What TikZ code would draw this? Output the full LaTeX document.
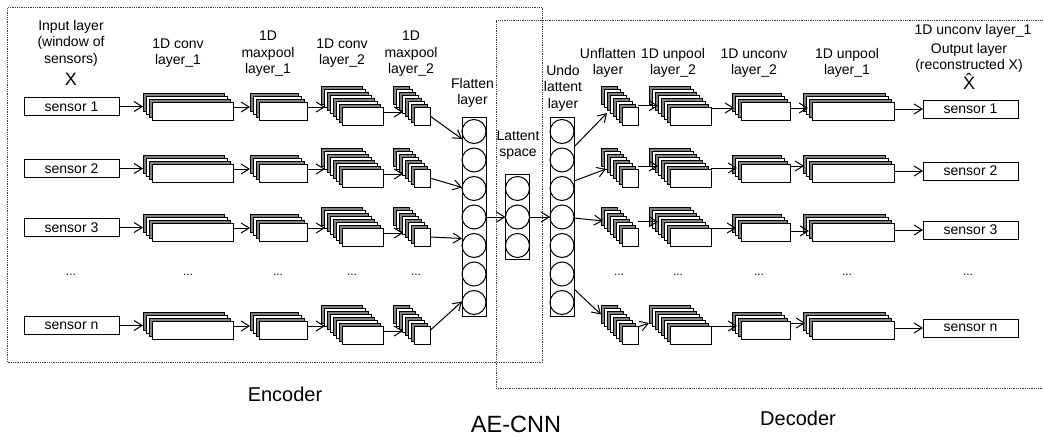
\documentclass[tikz,border=0pt]{standalone}
\usepackage{fontspec}
\usepackage{xcolor}
\usepackage{tikz}
\usetikzlibrary{arrows.meta,positioning}
\setsansfont{Liberation Sans}
\definecolor{stackgray}{HTML}{808080}
\definecolor{framegray}{HTML}{404040}
% back layer first, front layer keeps the bare name
\newcommand{\layerstack}[4]{%
    \node[layer, minimum width=#3pt, fill=stackgray, #4] (#1-1) {};
    \foreach \i in {2,...,\numexpr#2-1\relax} {
        \ifodd\i\def\layerfill{stackgray}\else\def\layerfill{white}\fi
        \node[layer, minimum width=#3pt, fill=\layerfill] at ([shift={({3*(\i-1)},{3*(\i-1)})}]#1-1.center) {};
    }
    \node[layer, minimum width=#3pt, fill=white] (#1) at ([shift={({3*(#2-1)},{3*(#2-1)})}]#1-1.center) {};
}
\begin{document}
\begin{tikzpicture}[
    x=1pt, y=-1pt,
    font=\sffamily,
    sensorbox/.style={draw, line width=1pt, minimum width=95pt, minimum height=18pt, inner sep=0pt, outer sep=0pt, font=\sffamily\fontsize{14}{16}\selectfont},
    layer/.style={draw, line width=1pt, minimum height=18pt, inner sep=0pt, outer sep=0pt},
    column/.style={draw, line width=1pt, minimum width=24pt, inner sep=0pt, outer sep=0pt},
    unit/.style={draw, circle, line width=1pt, minimum size=24pt, inner sep=0pt, outer sep=0pt},
    lbl/.style={align=center, inner sep=0pt, font=\sffamily\fontsize{14}{16.5}\selectfont},
    sym/.style={inner sep=0pt, font=\sffamily\fontsize{18}{20}\selectfont},
    dots/.style={inner sep=0pt, font=\sffamily\fontsize{12}{14}\selectfont},
    caption/.style={inner sep=0pt, font=\sffamily\fontsize{20}{24}\selectfont},
    arrow/.style={-{Straight Barb[length=8pt,width=10pt]}, line width=1pt},
    frame/.style={draw=framegray, densely dotted, line width=0.8pt, inner sep=0pt}
]
\useasboundingbox (0,0) rectangle (1043,436);

\node[frame, minimum width=535pt, minimum height=355pt] (encoder) at (275,185) {};
\node[frame, minimum width=560pt, minimum height=368pt] (decoder) at (776,204) {};

% one row per sensor
\foreach \r/\lab/\dy in {1/sensor 1/0, 2/sensor 2/62, 3/sensor 3/121, n/sensor n/219} {
    \node[sensorbox] (in\r) at (71.5,106.5+\dy) {\lab};
    \layerstack{convA\r}{4}{81}{right=24pt of in\r, yshift=4.5pt}
    \layerstack{maxA\r}{4}{48}{right=17pt of convA\r, yshift=9pt}
    \layerstack{convB\r}{8}{41}{right=14pt of maxA\r, yshift=16pt}
    \layerstack{maxB\r}{8}{16}{right=10pt of convB\r, yshift=21pt}

    \node[coordinate] (unflatpos\r) at (609,95.5+\dy) {};
    \layerstack{unflat\r}{8}{16}{at=(unflatpos\r)}
    \layerstack{unpoolB\r}{8}{41}{right=11pt of unflat\r, yshift=21pt}
    \layerstack{unconvB\r}{4}{49}{right=21pt of unpoolB\r, yshift=14.5pt}
    \layerstack{unpoolA\r}{4}{82}{right=13pt of unconvB\r, yshift=9pt}
    \node[sensorbox, right=29pt of unpoolA\r, yshift=2pt] (out\r) {\lab};

    \draw[arrow] (in\r.east) -- (in\r.east -| convA\r-1.west);
    \draw[arrow] ([yshift=4pt]convA\r.east) -- ([yshift=-5pt]maxA\r-1.west);
    \draw[arrow] ([yshift=4pt]maxA\r.east) -- ([xshift=4pt,yshift=-12pt]convB\r-1.west);
    \draw[arrow] ([yshift=4pt]convB\r.east) -- ([xshift=10pt,yshift=-17pt]maxB\r-1.west);
    \draw[arrow] (unpoolA\r.east |- out\r.west) -- (out\r.west);
}

% dense columns
\foreach \c/\x/\n in {fl/474/7, lat/517.5/3, un/562/7} {
    \node[column, minimum height={28.5*\n*1pt}] (\c) at (\x,217) {};
    \foreach \i in {1,...,\n} {
        \node[unit] (\c\i) at (\x,{217+28.5*(\i-(\n+1)/2)}) {};
    }
}

\foreach \a/\b/\sa/\sb in {maxB1/fl1/0/-7.5, maxB2/fl3/0/1, maxB3/fl5/0/7, maxBn/fl7/4.5/1} {
    \draw[arrow] ([yshift=\sa pt]\a.east) -- ([yshift=\sb pt]\b.west);
}
\draw[arrow] (fl4.east) -- (lat2.west);
\draw[arrow] (lat2.east) -- (un4.west);

\foreach \a/\b/\sa/\sb/\sx in {
    un2/unflat1-1/13/-17.5/6, un3/unflat2-1/7.5/-11.5/5, un4/unflat3-1/-1/-4.5/2, un6/unflatn-1/-15/0/0,
    unflat1/unpoolB1-1/10.8/-10.2/9, unflat2/unpoolB2-1/12.5/-8.5/9, unflat3/unpoolB3-1/15.8/-5.2/9, unflatn/unpoolBn-1/8.5/-8.5/0,
    unpoolB1/unconvB1-1/8.5/-6/2, unpoolB2/unconvB2-1/10.5/-4/5, unpoolB3/unconvB3-1/9.5/-5/4, unpoolBn/unconvBn-1/9.5/-5/5,
    unconvB1/unpoolA1-1/3/-6/5, unconvB2/unpoolA2-1/7/-2/1, unconvB3/unpoolA3-1/1/-8/6, unconvBn/unpoolAn-1/7/-2/2} {
    \draw[arrow] ([yshift=\sa pt]\a.east) -- ([xshift=\sx pt,yshift=\sb pt]\b.west);
}

% labels
\node[lbl] (inlabel) at (71,43) {Input layer\\(window of\\sensors)};
\node[sym] (xin) at (71,79) {X};
\node[lbl] (convAlabel) at (178,53) {1D conv\\layer\_1};
\node[lbl] (maxAlabel) at (268,54) {1D\\maxpool\\layer\_1};
\node[lbl] (convBlabel) at (342,53) {1D conv\\layer\_2};
\node[lbl] (maxBlabel) at (411,54) {1D\\maxpool\\layer\_2};
\node[lbl] (fllabel) at (472.5,93) {Flatten\\layer};
\node[lbl] (latlabel) at (518,145) {Lattent\\space};
\node[lbl] (unlabel) at (563,88) {Undo\\lattent\\layer};
\node[lbl] (unflatlabel) at (608,63) {Unflatten\\layer};
\node[lbl] (unpoolBlabel) at (673,63) {1D unpool\\layer\_2};
\node[lbl] (unconvBlabel) at (754,63) {1D unconv\\layer\_2};
\node[lbl] (unpoolAlabel) at (847,63) {1D unpool\\layer\_1};
\node[lbl] (unconvAlabel) at (973,31) {1D unconv layer\_1};
\node[lbl] (outlabel) at (969,58) {Output layer\\(reconstructed X)};
\node[sym] (xout) at (969,81) {X̂};

\foreach \x [count=\k] in {71,188,278,352,416,619,678,759,847,968} {
    \node[dots] (dots\k) at (\x,275) {...};
}

\node[caption] (enclabel) at (285,394) {Encoder};
\node[caption] (declabel) at (798,418) {Decoder};
\node[caption, font=\sffamily\fontsize{23.5}{26}\selectfont] (aecnn) at (516,424) {AE-CNN};
\end{tikzpicture}
\end{document}
